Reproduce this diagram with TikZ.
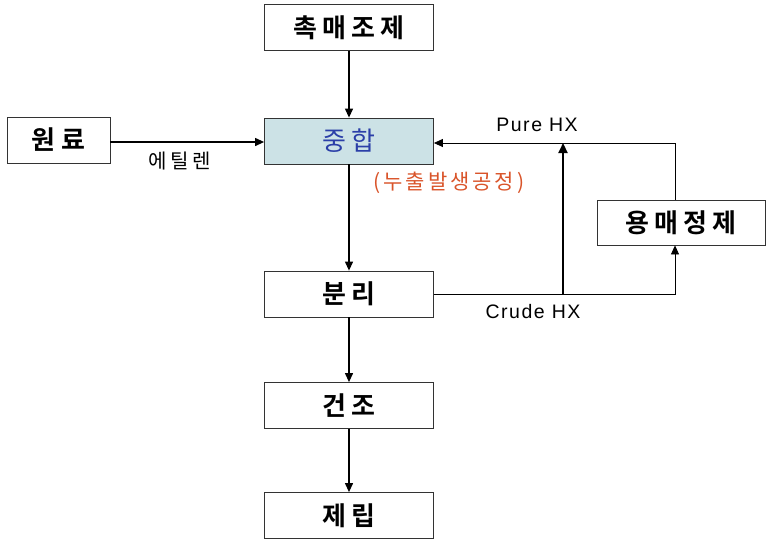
\documentclass[tikz,border=0pt]{standalone}
\usepackage{fontspec}
\setmainfont[LetterSpace=8]{Liberation Sans}
\newfontfamily\kr{Noto Sans CJK KR}
\newfontfamily\krb[LetterSpace=20]{Noto Sans CJK KR Bold}
\usetikzlibrary{arrows.meta}
\definecolor{boxblue}{HTML}{CCE2E6}
\definecolor{txtblue}{HTML}{2B3FA8}
\definecolor{leakred}{HTML}{D9542A}
\tikzset{
  proc/.style={draw=black!80, line width=0.8pt, minimum width=169pt, minimum height=46pt, inner sep=0pt, font=\krb\fontsize{26}{28}\selectfont},
  flow/.style={line width=1.2pt, -{Triangle[length=9pt,width=8pt]}},
  lbl/.style={font=\fontsize{19.5}{21}\selectfont, inner sep=0pt}
}
\begin{document}
\begin{tikzpicture}[x=1pt,y=-1pt]
\useasboundingbox (0,0) rectangle (773,544);
\node[proc] (cat) at (349,27.5) {촉매조제};
\node[proc, fill=boxblue, text=txtblue, font=\kr\addfontfeature{LetterSpace=20}\fontsize{26}{28}\selectfont] (poly) at (349,141) {중합};
\node[proc, minimum width=103pt] (raw) at (58.5,140) {원료};
\node[proc] (sep) at (349,294) {분리};
\node[proc] (dry) at (349,405.5) {건조};
\node[proc] (pel) at (349,515.5) {제립};
\node[proc, minimum width=168pt, minimum height=45pt] (sol) at (681,222.5) {용매정제};
\node[font=\kr\addfontfeature{LetterSpace=14}\fontsize{21}{23}\selectfont, text=leakred, inner sep=0pt] (leak) at (449,183) {(누출발생공정)};
\node[lbl, font=\kr\addfontfeature{LetterSpace=18}\fontsize{20}{22}\selectfont] (eth) at (180,161) {에틸렌};
\node[lbl] (pure) at (537,125) {Pure HX};
\node[lbl] (crude) at (533,312) {Crude HX};
\coordinate (tr) at (675,143);
\coordinate (br) at (675,294);
\coordinate (jn) at (563,294);
\coordinate (jt) at (563,143);
\draw[flow] (cat) -- (poly);
\draw[flow] (raw.east |- 0,142) -- (poly.west |- 0,142);
\draw[flow] (poly) -- (sep);
\draw[flow] (sep) -- (dry);
\draw[flow] (dry) -- (pel);
\draw[line width=0.8pt, -{Triangle[length=9pt,width=8pt]}] (sol.north -| tr) -- (tr) -- (poly.east |- tr);
\draw[line width=0.8pt, -{Triangle[length=9pt,width=8pt]}] (sep.east) -- (br) -- (sol.south -| br);
\draw[line width=2.2pt, -{Triangle[length=10pt,width=9pt]}] (jn) -- (jt);
\end{tikzpicture}
\end{document}
